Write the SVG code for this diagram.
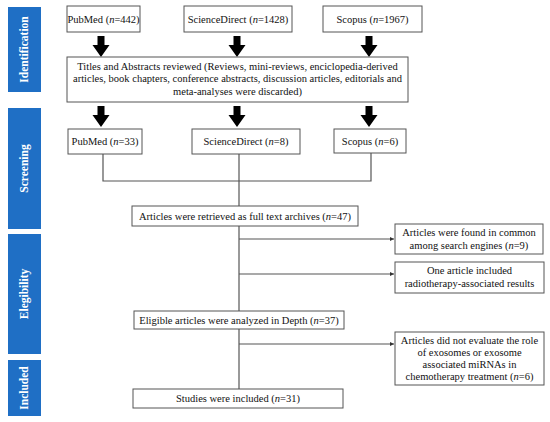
<svg xmlns="http://www.w3.org/2000/svg" width="550" height="422" viewBox="0 0 550 422">
<defs>
<style>
.bar{fill:#1f6fc5}
.lab{fill:#fff;font-family:"Liberation Serif",serif;font-weight:bold;font-size:11.5px;text-anchor:middle}
.box{fill:#fff;stroke:#555;stroke-width:1}
.t{font-family:"Liberation Serif",serif;font-size:10.5px;fill:#111;text-anchor:middle}
.ln{fill:none;stroke:#555;stroke-width:1.2}
.ar{fill:#000}
</style>
<marker id="m" viewBox="0 0 6 6" refX="6" refY="3" markerWidth="4" markerHeight="4" orient="auto" markerUnits="userSpaceOnUse"><path d="M0,0L6,3L0,6z" fill="#333"/></marker>
<path id="blk" d="M-3.5,0H3.5V9H8.5L0,21L-8.5,9H-3.5Z"/>
</defs>
<g id="phases">
<g id="identification"><rect class="bar" x="8" y="7" width="33" height="85"/><text class="lab" transform="translate(28,49.5) rotate(-90)">Identification</text></g>
<g id="screening"><rect class="bar" x="8" y="108" width="33" height="121"/><text class="lab" transform="translate(28,168.5) rotate(-90)">Screening</text></g>
<g id="eligibility"><rect class="bar" x="8" y="234" width="33" height="120"/><text class="lab" transform="translate(28,294) rotate(-90)">Elegibility</text></g>
<g id="included"><rect class="bar" x="8" y="360" width="33" height="56"/><text class="lab" transform="translate(28,388) rotate(-90)">Included</text></g>
</g>
<g id="connectors">
<use href="#blk" class="ar" x="101" y="36"/>
<use href="#blk" class="ar" x="237" y="36"/>
<use href="#blk" class="ar" x="369" y="36"/>
<use href="#blk" class="ar" x="101" y="106"/>
<use href="#blk" class="ar" x="237" y="106"/>
<use href="#blk" class="ar" x="369" y="106"/>
<path class="ln" d="M103,154V181H371V153"/>
<path class="ln" d="M239,154V206"/>
<path class="ln" d="M239,226V311"/>
<path class="ln" d="M239,239H394" marker-end="url(#m)"/>
<path class="ln" d="M239,274H394" marker-end="url(#m)"/>
<path class="ln" d="M239,329V389"/>
<path class="ln" d="M239,344H394" marker-end="url(#m)"/>
</g>
<g id="pubmed1"><rect class="box" x="67" y="6" width="73" height="26"/><text class="t" x="103.5" y="23">PubMed (<tspan font-style="italic">n</tspan>=442)</text></g>
<g id="sciencedirect1"><rect class="box" x="184" y="6" width="108" height="26"/><text class="t" x="238" y="23">ScienceDirect (<tspan font-style="italic">n</tspan>=1428)</text></g>
<g id="scopus1"><rect class="box" x="323" y="6" width="99" height="26"/><text class="t" x="372.5" y="23">Scopus (<tspan font-style="italic">n</tspan>=1967)</text></g>
<g id="titles"><rect class="box" x="67" y="57" width="341" height="45"/>
<text class="t" x="237.5" y="69.5">Titles and Abstracts reviewed (Reviews, mini-reviews, enciclopedia-derived</text>
<text class="t" x="237.5" y="82">articles, book chapters, conference abstracts, discussion articles, editorials and</text>
<text class="t" x="237.5" y="94.5">meta-analyses were discarded)</text></g>
<g id="pubmed2"><rect class="box" x="68" y="129" width="74" height="25"/><text class="t" x="105" y="145">PubMed (<tspan font-style="italic">n</tspan>=33)</text></g>
<g id="sciencedirect2"><rect class="box" x="192" y="129" width="108" height="25"/><text class="t" x="246" y="145">ScienceDirect (<tspan font-style="italic">n</tspan>=8)</text></g>
<g id="scopus2"><rect class="box" x="334" y="129" width="72" height="24"/><text class="t" x="370" y="145">Scopus (<tspan font-style="italic">n</tspan>=6)</text></g>
<g id="retrieved"><rect class="box" x="132" y="206" width="226" height="20"/><text class="t" x="245" y="220">Articles were retrieved as full text archives (<tspan font-style="italic">n</tspan>=47)</text></g>
<g id="common"><rect class="box" x="395" y="224" width="148" height="30"/>
<text class="t" x="469" y="236">Articles were found in common</text>
<text class="t" x="469" y="249">among search engines (<tspan font-style="italic">n</tspan>=9)</text></g>
<g id="radio"><rect class="box" x="395" y="262" width="149" height="31"/>
<text class="t" x="469.5" y="274">One article included</text>
<text class="t" x="469.5" y="287">radiotherapy-associated results</text></g>
<g id="eligible"><rect class="box" x="134" y="311" width="210" height="18"/><text class="t" x="239" y="324">Eligible articles were analyzed in Depth (<tspan font-style="italic">n</tspan>=37)</text></g>
<g id="notevaluated"><rect class="box" x="395" y="332" width="149" height="53"/>
<text class="t" x="469.5" y="344">Articles did not evaluate the role</text>
<text class="t" x="469.5" y="356">of exosomes or exosome</text>
<text class="t" x="469.5" y="368">associated miRNAs in</text>
<text class="t" x="469.5" y="380">chemotherapy treatment (<tspan font-style="italic">n</tspan>=6)</text></g>
<g id="studies"><rect class="box" x="133" y="389" width="210" height="19"/><text class="t" x="238" y="402">Studies were included (<tspan font-style="italic">n</tspan>=31)</text></g>
</svg>
